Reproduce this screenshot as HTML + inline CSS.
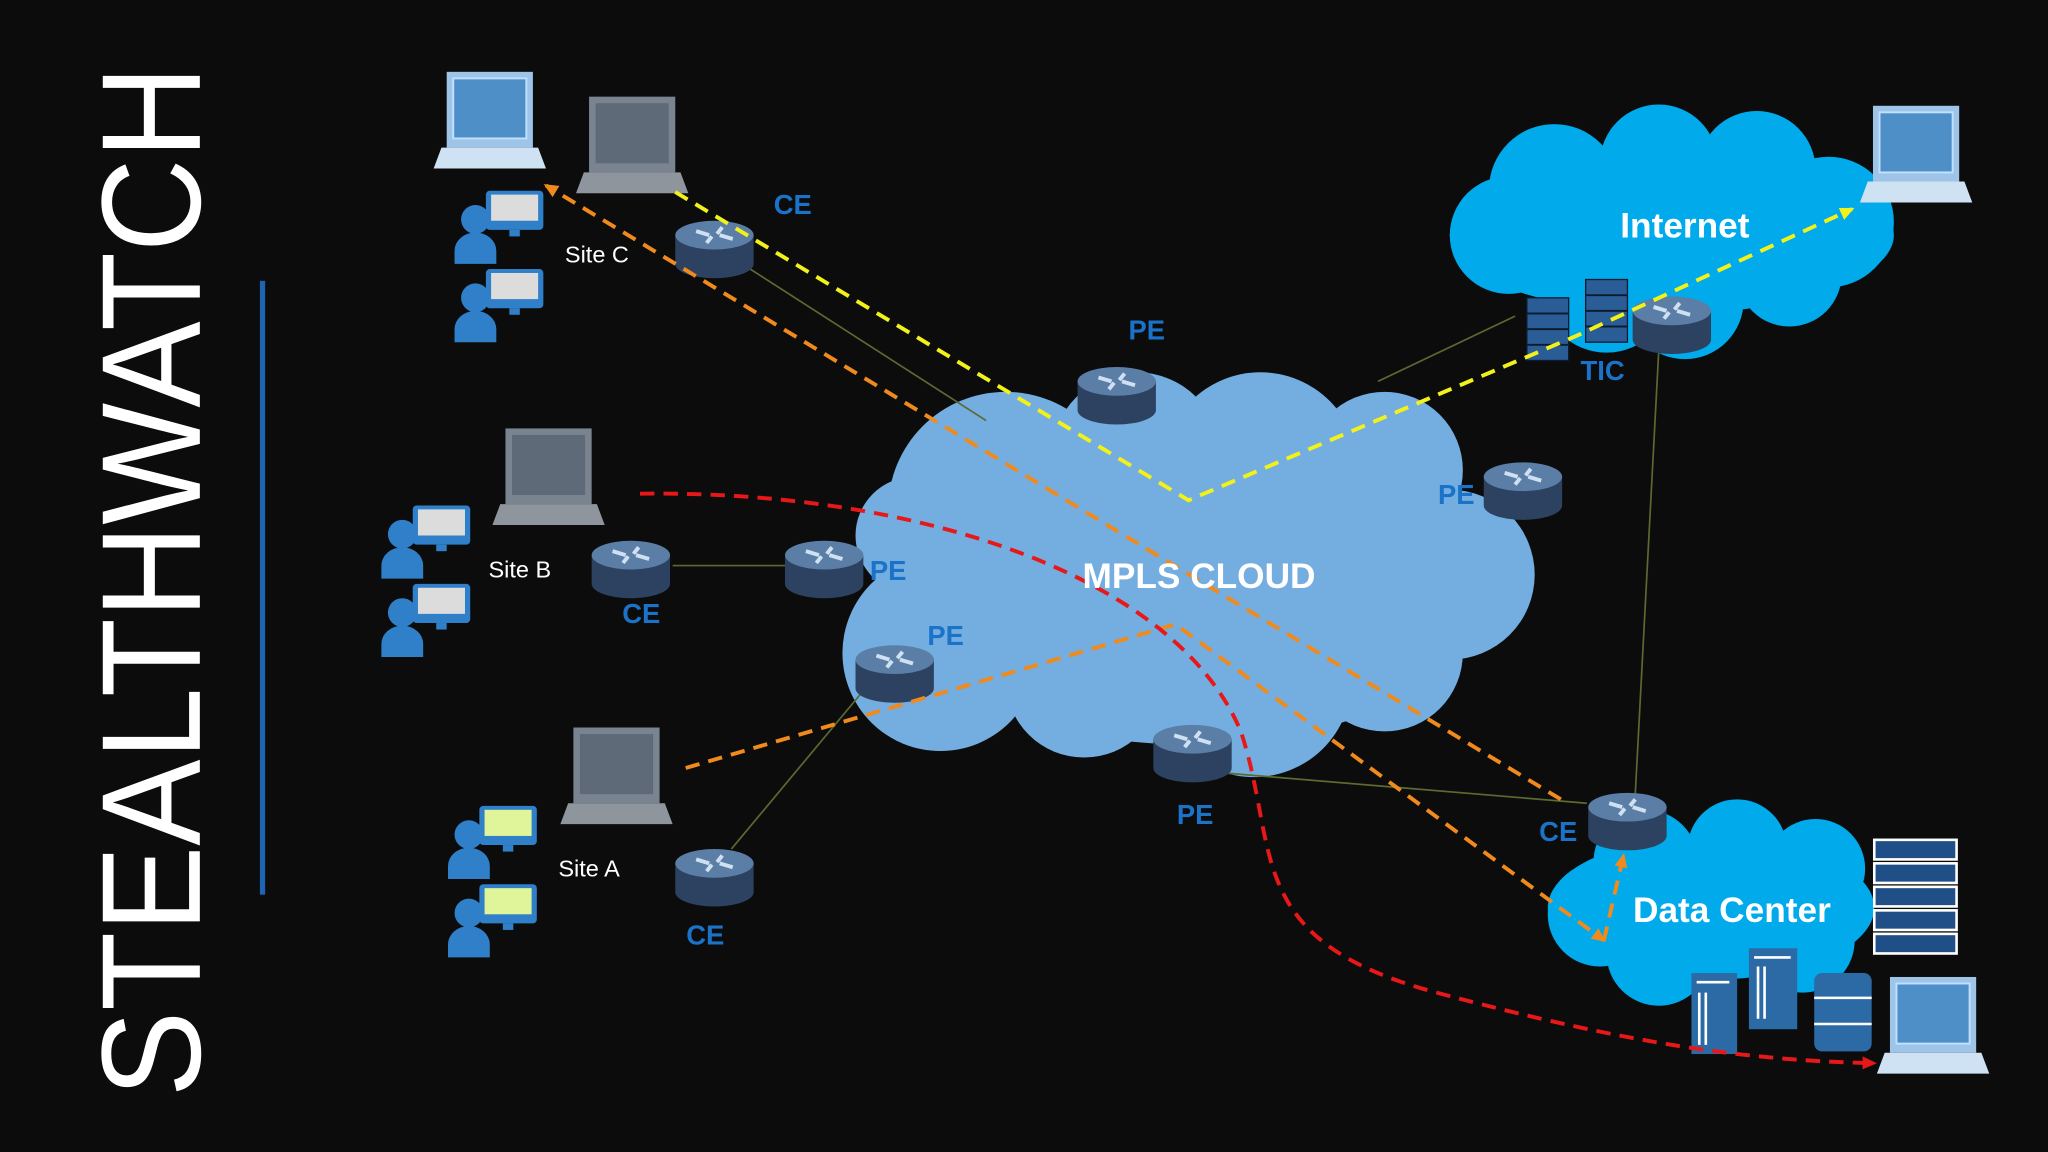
<!DOCTYPE html>
<html><head><meta charset="utf-8"><style>
html,body{margin:0;padding:0;background:#0c0c0d;}
svg{display:block}
text{font-family:"Liberation Sans",sans-serif}
</style></head><body>
<svg width="2048" height="1152" viewBox="0 0 1568 882" xmlns="http://www.w3.org/2000/svg">
<defs>
<g id="rt">
 <path d="M-30,0 v22 a30,11 0 0 0 60,0 v-22z" fill="#2c4260"/>
 <ellipse cx="0" cy="0" rx="30" ry="11" fill="#5b7ea6"/>
 <path d="M-14,-3 l10,3 M14,3 l-10,-3 M-6,6 l4,-5 M6,-6 l-4,5" stroke="#cfe0f2" stroke-width="3"/>
</g>
<g id="lap">
 <rect x="0" y="0" width="66" height="58" fill="#7a8490"/>
 <rect x="5" y="5" width="56" height="46" fill="#5e6a78"/>
 <path d="M-4,58 h74 l6,16 h-86z" fill="#8e959c"/>
</g>
<g id="lapb">
 <rect x="0" y="0" width="66" height="58" fill="#9ec4e8"/>
 <rect x="5" y="5" width="56" height="46" fill="#4f8fc8" stroke="#bfe0ff" stroke-width="1.5"/>
 <path d="M-4,58 h74 l6,16 h-86z" fill="#cfe2f3"/>
</g>
<g id="usr">
 <rect x="24" y="0" width="44" height="30" rx="3" fill="#2f80c8"/>
 <rect x="28" y="3" width="36" height="20" fill="#dcdcdc"/>
 <rect x="42" y="30" width="8" height="5" fill="#2f80c8"/>
 <circle cx="16" cy="22" r="11" fill="#2f80c8"/>
 <path d="M0,56 v-10 a16,14 0 0 1 32,0 v10z" fill="#2f80c8"/>
</g>
<g id="usrg">
 <rect x="24" y="0" width="44" height="30" rx="3" fill="#2f80c8"/>
 <rect x="28" y="3" width="36" height="20" fill="#e0f59a"/>
 <rect x="42" y="30" width="8" height="5" fill="#2f80c8"/>
 <circle cx="16" cy="22" r="11" fill="#2f80c8"/>
 <path d="M0,56 v-10 a16,14 0 0 1 32,0 v10z" fill="#2f80c8"/>
</g>
<marker id="ao" markerUnits="userSpaceOnUse" markerWidth="11" markerHeight="10" refX="9" refY="5" orient="auto"><path d="M0,0 L11,5 L0,10z" fill="#f08a1c"/></marker>
<marker id="ay" markerUnits="userSpaceOnUse" markerWidth="11" markerHeight="10" refX="9" refY="5" orient="auto"><path d="M0,0 L11,5 L0,10z" fill="#f2f21a"/></marker>
<marker id="ar" markerUnits="userSpaceOnUse" markerWidth="11" markerHeight="10" refX="9" refY="5" orient="auto"><path d="M0,0 L11,5 L0,10z" fill="#e81818"/></marker>
</defs>

<text transform="translate(153,445) rotate(-90)" font-size="108" fill="#fff" text-anchor="middle" textLength="790" lengthAdjust="spacingAndGlyphs" font-weight="300">STEALTHWATCH</text>
<rect x="199" y="215" width="4" height="470" fill="#1e64b4"/>

<g fill="#74aee0">
 <ellipse cx="910" cy="450" rx="230" ry="120"/>
 <circle cx="770" cy="390" r="90"/>
 <circle cx="870" cy="350" r="65"/>
 <circle cx="965" cy="360" r="75"/>
 <circle cx="1060" cy="360" r="60"/>
 <circle cx="1110" cy="440" r="65"/>
 <circle cx="1060" cy="500" r="60"/>
 <circle cx="960" cy="520" r="75"/>
 <circle cx="830" cy="520" r="60"/>
 <circle cx="720" cy="500" r="75"/>
 <circle cx="700" cy="410" r="45"/>
</g>
<g fill="#00aaeb">
 <ellipse cx="1280" cy="180" rx="170" ry="60"/>
 <circle cx="1190" cy="145" r="50"/>
 <circle cx="1270" cy="125" r="45"/>
 <circle cx="1345" cy="130" r="45"/>
 <circle cx="1400" cy="170" r="50"/>
 <circle cx="1155" cy="180" r="45"/>
 <circle cx="1230" cy="220" r="50"/>
 <circle cx="1290" cy="230" r="45"/>
 <circle cx="1370" cy="210" r="40"/>
</g>
<g fill="#00aaeb">
 <ellipse cx="1310" cy="695" rx="125" ry="55"/>
 <circle cx="1260" cy="660" r="40"/>
 <circle cx="1330" cy="650" r="38"/>
 <circle cx="1390" cy="665" r="38"/>
 <circle cx="1225" cy="700" r="40"/>
 <circle cx="1270" cy="730" r="40"/>
 <circle cx="1380" cy="720" r="40"/>
</g>

<g stroke="#5a6a30" stroke-width="1.3" fill="none">
 <path d="M565,200 L755,322"/>
 <path d="M515,433 L602,433"/>
 <path d="M560,650 L660,530"/>
 <path d="M940,592 L1215,615"/>
 <path d="M1160,242 L1055,292"/>
 <path d="M1270,268 L1252,608"/>
</g>

<use href="#rt" x="547" y="180"/>
<use href="#rt" x="855" y="292"/>
<use href="#rt" x="1166" y="365"/>
<use href="#rt" x="483" y="425"/>
<use href="#rt" x="631" y="425"/>
<use href="#rt" x="685" y="505"/>
<use href="#rt" x="913" y="566"/>
<use href="#rt" x="547" y="661"/>
<use href="#rt" x="1280" y="238"/>
<use href="#rt" x="1246" y="618"/>

<g fill="#2a5c96" stroke="#0c1c30" stroke-width="1">
 <rect x="1169" y="228" width="32" height="48"/>
 <rect x="1214" y="214" width="32" height="48"/>
</g>
<g stroke="#0c1c30" stroke-width="1.5">
 <path d="M1169,240h32M1169,252h32M1169,264h32M1214,226h32M1214,238h32M1214,250h32"/>
</g>

<use href="#lapb" x="342" y="55"/>
<use href="#lap" x="451" y="74"/>
<use href="#lap" x="387" y="328"/>
<use href="#lap" x="439" y="557"/>
<use href="#lapb" x="1434" y="81"/>
<use href="#lapb" x="1447" y="748"/>
<use href="#usr" x="348" y="146"/>
<use href="#usr" x="348" y="206"/>
<use href="#usr" x="292" y="387"/>
<use href="#usr" x="292" y="447"/>
<use href="#usrg" x="343" y="617"/>
<use href="#usrg" x="343" y="677"/>

<g fill="#2c6aa6">
 <rect x="1295" y="745" width="35" height="62"/>
 <rect x="1339" y="726" width="37" height="62"/>
 <rect x="1389" y="745" width="44" height="60" rx="6"/>
</g>
<g stroke="#fff" stroke-width="2"><path d="M1299,752h25M1343,733h28M1301,760v40M1306,760v40M1346,740v40M1351,740v40M1389,764h44M1389,784h44" /></g>
<g fill="#1f4f86" stroke="#fff" stroke-width="2">
 <rect x="1435" y="643" width="63" height="15"/><rect x="1435" y="661" width="63" height="15"/><rect x="1435" y="679" width="63" height="15"/><rect x="1435" y="697" width="63" height="15"/><rect x="1435" y="715" width="63" height="15"/>
</g>

<g fill="none" stroke-width="3" stroke-dasharray="11,7">
 <path d="M517,147 L910,383 L1205,258 L1418,160" stroke="#f2f21a" marker-end="url(#ay)"/>
 <path d="M1195,612 L418,142" stroke="#f08a1c" marker-end="url(#ao)"/>
 <path d="M525,588 L900,478 L1228,720" stroke="#f08a1c" marker-end="url(#ao)"/>
 <path d="M1228,720 L1243,655" stroke="#f08a1c" marker-end="url(#ao)"/>
 <path d="M490,378 C700,375 900,440 950,560 C980,650 950,720 1100,760 C1250,800 1340,812 1435,814" stroke="#e81818" marker-end="url(#ar)"/>
</g>

<g fill="#1a73c8" font-weight="bold" font-size="21" text-anchor="middle">
 <text x="607" y="164">CE</text>
 <text x="878" y="260">PE</text>
 <text x="1115" y="386">PE</text>
 <text x="680" y="444">PE</text>
 <text x="491" y="477">CE</text>
 <text x="724" y="494">PE</text>
 <text x="915" y="631">PE</text>
 <text x="540" y="723">CE</text>
 <text x="1193" y="644">CE</text>
 <text x="1227" y="291">TIC</text>
</g>
<g fill="#fff" font-size="18" text-anchor="middle">
 <text x="457" y="201">Site C</text>
 <text x="398" y="442">Site B</text>
 <text x="451" y="671">Site A</text>
</g>
<g fill="#fff" font-weight="bold" font-size="27" text-anchor="middle">
 <text x="918" y="450">MPLS CLOUD</text>
 <text x="1290" y="182">Internet</text>
 <text x="1326" y="706">Data Center</text>
</g>
</svg>
</body></html>
